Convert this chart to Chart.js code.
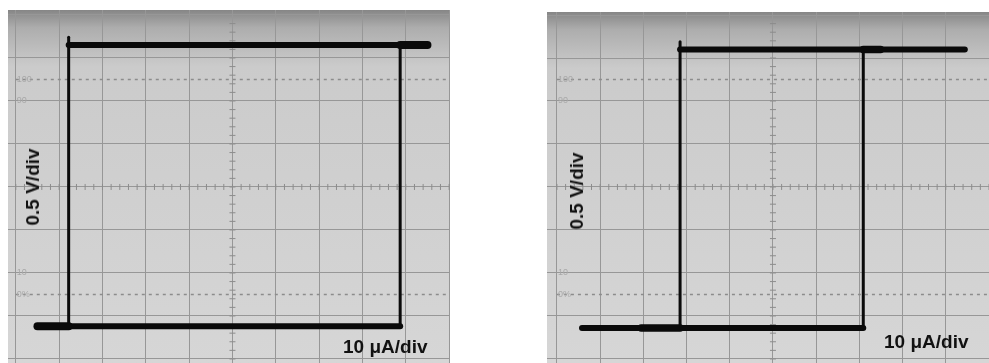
<!DOCTYPE html>
<html>
<head>
<meta charset="utf-8">
<script src="https://cdn.jsdelivr.net/npm/chart.js@4"></script>
<style>
  body { margin: 0; width: 989px; height: 363px; background: #fff; position: relative; overflow: hidden; font-family: "Liberation Sans", Arial, sans-serif; }
  .panel { position: absolute; }
  #p1 { left: 8px; top: 10px; width: 442px; height: 353px; }
  #p2 { left: 547px; top: 12px; width: 442px; height: 351px; }
  .ylab { position: absolute; font-weight: bold; font-size: 19px; color: #111; transform: translate(-50%, -50%) rotate(-90deg); white-space: nowrap; }
  .xlab { position: absolute; font-weight: bold; font-size: 19px; color: #111; white-space: nowrap; }
</style>
</head>
<body>
<div class="panel" id="p1"><canvas id="c1"></canvas></div>
<div class="panel" id="p2"><canvas id="c2"></canvas></div>
<div class="ylab" style="left:33px; top:187px;">0.5 V/div</div>
<div class="ylab" style="left:577px; top:191px;">0.5 V/div</div>
<div class="xlab" style="left:343px; top:336px;">10 μA/div</div>
<div class="xlab" style="left:884px; top:331px;">10 μA/div</div>
<script>
// graticule: 10 µA/div across, 0.5 V/div up
let xTicks = [-50, -40, -30, -20, -10, 0, 10, 20, 30, 40, 50];
let yTicks = [-2, -1.5, -1, -0.5, 0, 0.5, 1, 1.5, 2];
let pctLabels = ["100", "90", "10", "0%"];
let pctLevels = [1.25, 1.0, -1.0, -1.25];

// left loop (µA, V)
let leftBottomX = [-45, 38.7];
let leftBottomY = -1.62;
let leftTopX = [-37.8, 45];
let leftTopY = 1.65;
let leftRiseX = 38.7;
let leftFallX = -37.8;
let leftFallTop = 1.74;

// right loop (µA, V)
let rightBottomX = [-44.2, 20.9];
let rightBottomY = -1.64;
let rightTopX = [-21.5, 44.4];
let rightTopY = 1.60;
let rightRiseX = 20.9;
let rightFallX = -21.5;
let rightFallTop = 1.69;

let scopeLook = {
    id: "scopeLook",
    beforeDraw(chart) {
        let ctx = chart.ctx;
        let a = chart.chartArea;
        let g = ctx.createLinearGradient(0, a.top, 0, a.bottom);
        g.addColorStop(0, "#868686");
        g.addColorStop(0.05, "#adadad");
        g.addColorStop(0.16, "#cbcbcb");
        g.addColorStop(1, "#d6d6d6");
        ctx.save();
        ctx.fillStyle = g;
        ctx.fillRect(a.left, a.top, a.right - a.left, a.bottom - a.top);
        ctx.restore();
    },
    beforeDatasetsDraw(chart) {
        let ctx = chart.ctx;
        let xs = chart.scales.x;
        let ys = chart.scales.y;
        let x0 = xs.getPixelForValue(0);
        let y0 = ys.getPixelForValue(0);
        ctx.save();
        ctx.strokeStyle = "#8c8c8c";
        ctx.lineWidth = 1;
        // minor ticks on the centre lines, 5 per division
        for (let v = -50; v <= 50; v += 2) {
            let px = xs.getPixelForValue(v);
            ctx.beginPath();
            ctx.moveTo(px, y0 - 3);
            ctx.lineTo(px, y0 + 3);
            ctx.stroke();
        }
        for (let v = -2; v <= 2; v += 0.1) {
            let py = ys.getPixelForValue(v);
            ctx.beginPath();
            ctx.moveTo(x0 - 3, py);
            ctx.lineTo(x0 + 3, py);
            ctx.stroke();
        }
        // dotted 0% / 100% lines
        ctx.setLineDash([3, 4]);
        ctx.lineWidth = 1.5;
        [1.25, -1.25].forEach(v => {
            let py = ys.getPixelForValue(v);
            ctx.beginPath();
            ctx.moveTo(xs.getPixelForValue(-50), py);
            ctx.lineTo(xs.getPixelForValue(50), py);
            ctx.stroke();
        });
        ctx.setLineDash([]);
        // faint percentage marks
        ctx.fillStyle = "#a8a8a8";
        ctx.font = "9px 'Liberation Sans', Arial";
        ctx.textBaseline = "middle";
        pctLabels.forEach((t, i) => {
            ctx.fillText(t, xs.getPixelForValue(-50) + 1, ys.getPixelForValue(pctLevels[i]));
        });
        ctx.restore();
    }
};

function seg(xArr, yArr, width) {
    return {
        data: xArr.map((x, i) => ({ x: x, y: yArr[i] })),
        showLine: true,
        borderColor: "#0a0a0a",
        borderWidth: width,
        borderCapStyle: "round",
        pointRadius: 0
    };
}

function makeScope(id, xMin, xMax, yMin, yMax, datasets) {
    return new Chart(document.getElementById(id), {
        type: "scatter",
        data: { datasets: datasets },
        options: {
            responsive: true,
            maintainAspectRatio: false,
            animation: false,
            layout: { padding: 0 },
            plugins: { legend: { display: false }, tooltip: { enabled: false } },
            scales: {
                x: {
                    min: xMin, max: xMax,
                    afterBuildTicks: axis => { axis.ticks = xTicks.map(v => ({ value: v })); },
                    ticks: { display: false },
                    border: { display: false },
                    grid: { color: "#979797", lineWidth: 1, drawTicks: false }
                },
                y: {
                    min: yMin, max: yMax,
                    afterBuildTicks: axis => { axis.ticks = yTicks.map(v => ({ value: v })); },
                    ticks: { display: false },
                    border: { display: false },
                    grid: { color: "#979797", lineWidth: 1, drawTicks: false }
                }
            }
        },
        plugins: [scopeLook]
    });
}

makeScope("c1", -51.8, 50.2, -2.047, 2.058, [
    seg(leftBottomX, [leftBottomY, leftBottomY], 6),
    seg(leftTopX, [leftTopY, leftTopY], 6),
    seg([leftRiseX, leftRiseX], [leftBottomY, leftTopY], 3),
    seg([leftFallX, leftFallX], [leftBottomY, leftFallTop], 3),
    seg([leftBottomX[0], leftFallX], [leftBottomY, leftBottomY], 8),
    seg([leftRiseX, leftTopX[1]], [leftTopY, leftTopY], 8)
]);

makeScope("c2", -52.3, 50.0, -2.047, 2.035, [
    seg(rightBottomX, [rightBottomY, rightBottomY], 6),
    seg(rightTopX, [rightTopY, rightTopY], 6),
    seg([rightRiseX, rightRiseX], [rightBottomY, rightTopY], 3),
    seg([rightFallX, rightFallX], [rightBottomY, rightFallTop], 3),
    seg([rightFallX - 9, rightFallX], [rightBottomY, rightBottomY], 7.5),
    seg([rightRiseX, rightRiseX + 4], [rightTopY, rightTopY], 7.5)
]);
</script>
</body>
</html>
